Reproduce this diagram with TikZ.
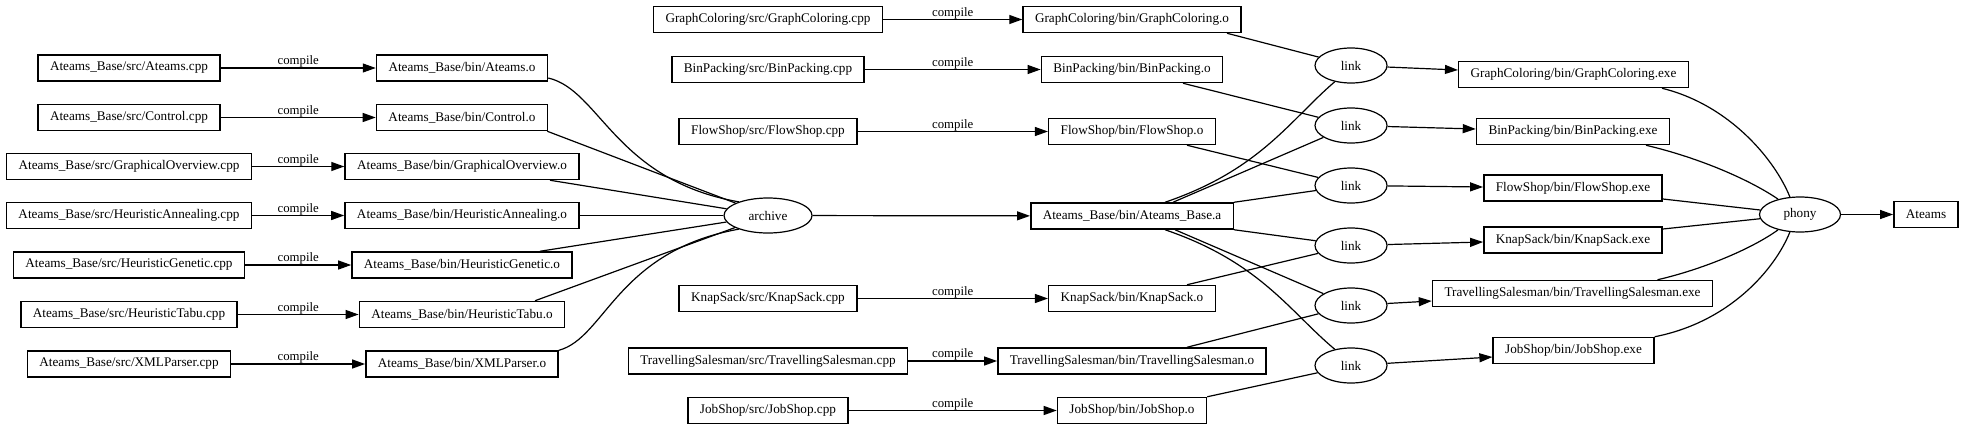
\documentclass[tikz,border=0pt]{standalone}
\usepackage{fontspec}
\setmainfont{Liberation Serif}
\usetikzlibrary{arrows.meta,calc,shapes.geometric}
\begin{document}
\begin{tikzpicture}[x=0.5pt,y=-0.5pt,
  box/.style={draw, line width=0.75pt, rectangle, minimum height=13pt, inner xsep=6pt, inner ysep=1pt, font=\fontsize{6.6}{7.5}\selectfont},
  ell/.style={draw, line width=0.6pt, ellipse, inner sep=0pt, minimum height=17.5pt, font=\fontsize{6.6}{7.5}\selectfont},
  edge/.style={line width=0.6pt},
  arr/.style={edge, -{Triangle[length=6.5pt,width=4.5pt]}},
  lbl/.style={font=\fontsize{6.4}{7}\selectfont, anchor=base, inner sep=0pt, yshift=1.6pt}]
\useasboundingbox (0,0) rectangle (1968,429);
% left column
\node[box] (c1) at (129,68) {Ateams\_Base/src/Ateams.cpp};
\node[box] (o1) at (462,68) {Ateams\_Base/bin/Ateams.o};
\node[box] (c2) at (129,117.5) {Ateams\_Base/src/Control.cpp};
\node[box] (o2) at (462,117.5) {Ateams\_Base/bin/Control.o};
\node[box] (c3) at (129,166.5) {Ateams\_Base/src/GraphicalOverview.cpp};
\node[box] (o3) at (462,166.5) {Ateams\_Base/bin/GraphicalOverview.o};
\node[box] (c4) at (129,215.5) {Ateams\_Base/src/HeuristicAnnealing.cpp};
\node[box] (o4) at (462,215.5) {Ateams\_Base/bin/HeuristicAnnealing.o};
\node[box] (c5) at (129,265) {Ateams\_Base/src/HeuristicGenetic.cpp};
\node[box] (o5) at (462,265) {Ateams\_Base/bin/HeuristicGenetic.o};
\node[box] (c6) at (129,314.5) {Ateams\_Base/src/HeuristicTabu.cpp};
\node[box] (o6) at (462,314.5) {Ateams\_Base/bin/HeuristicTabu.o};
\node[box] (c7) at (129,364) {Ateams\_Base/src/XMLParser.cpp};
\node[box] (o7) at (462,364) {Ateams\_Base/bin/XMLParser.o};
\node[ell, minimum width=44pt] (archive) at (768,215.5) {archive};
% middle
\node[box] (gcc) at (768,19.5) {GraphColoring/src/GraphColoring.cpp};
\node[box] (gco) at (1132,19.5) {GraphColoring/bin/GraphColoring.o};
\node[box] (bpc) at (768,69.5) {BinPacking/src/BinPacking.cpp};
\node[box] (bpo) at (1132,69.5) {BinPacking/bin/BinPacking.o};
\node[box] (fsc) at (768,131.5) {FlowShop/src/FlowShop.cpp};
\node[box] (fso) at (1132,131.5) {FlowShop/bin/FlowShop.o};
\node[box] (abase) at (1132,216) {Ateams\_Base/bin/Ateams\_Base.a};
\node[box] (ksc) at (768,298.5) {KnapSack/src/KnapSack.cpp};
\node[box] (kso) at (1132,298.5) {KnapSack/bin/KnapSack.o};
\node[box] (tsc) at (768,361) {TravellingSalesman/src/TravellingSalesman.cpp};
\node[box] (tso) at (1132,361) {TravellingSalesman/bin/TravellingSalesman.o};
\node[box] (jsc) at (768,410.5) {JobShop/src/JobShop.cpp};
\node[box] (jso) at (1132,410.5) {JobShop/bin/JobShop.o};
% links
\node[ell, minimum width=36pt] (l1) at (1351,65.5) {link};
\node[ell, minimum width=36pt] (l2) at (1351,125.5) {link};
\node[ell, minimum width=36pt] (l3) at (1351,185.5) {link};
\node[ell, minimum width=36pt] (l4) at (1351,245.5) {link};
\node[ell, minimum width=36pt] (l5) at (1351,305.5) {link};
\node[ell, minimum width=36pt] (l6) at (1351,365.5) {link};
% exes
\node[box] (gce) at (1573.5,74.5) {GraphColoring/bin/GraphColoring.exe};
\node[box] (bpe) at (1573,131.5) {BinPacking/bin/BinPacking.exe};
\node[box] (fse) at (1573,188) {FlowShop/bin/FlowShop.exe};
\node[box] (kse) at (1573,240) {KnapSack/bin/KnapSack.exe};
\node[box] (tse) at (1572.5,293.5) {TravellingSalesman/bin/TravellingSalesman.exe};
\node[box] (jse) at (1573.5,350.5) {JobShop/bin/JobShop.exe};
\node[ell, minimum width=40.5pt] (phony) at (1800,214.5) {phony};
\node[box] (ateams) at (1926,214.5) {Ateams};
% compile edges
\foreach \a/\b in {c1/o1,c2/o2,c3/o3,c4/o4,c5/o5,c6/o6,c7/o7,gcc/gco,bpc/bpo,fsc/fso,ksc/kso,tsc/tso,jsc/jso}
  \draw[arr] (\a) -- node[lbl]{compile} (\b);
% objects to archive
\draw[edge] ($(o1.east)+(0,10)$) .. controls (600,90) and (615,180) .. (archive.155);
\draw[edge] ($(o2.south east)+(-1,0)$) -- (archive);
\draw[edge] ($(o3.south)+(88,0)$) -- (archive);
\draw[edge] (o4) -- (archive);
\draw[edge] ($(o5.north)+(78,0)$) -- (archive);
\draw[edge] ($(o6.north)+(73,0)$) -- (archive);
\draw[edge] (o7.north east) .. controls (605,338) and (617,251) .. (archive.205);
\draw[arr] (archive) -- (abase);
% library to links
\draw[edge] ($(abase.north)+(33,0)$) .. controls (1260,170) and (1290,120) .. (l1.225);
\draw[edge] ($(abase.north)+(41,0)$) -- (l2);
\draw[edge] (abase.north east) -- (l3);
\draw[edge] (abase.south east) -- (l4);
\draw[edge] ($(abase.south)+(43,0)$) -- (l5);
\draw[edge] ($(abase.south)+(33,0)$) .. controls (1260,262) and (1290,312) .. (l6.135);
% objects to links
\draw[edge] ($(gco.south)+(95,0)$) -- (l1);
\draw[edge] ($(bpo.south)+(51,0)$) -- (l2);
\draw[edge] ($(fso.south)+(55,0)$) -- (l3);
\draw[edge] ($(kso.north)+(55,0)$) -- (l4);
\draw[edge] ($(tso.north)+(55,0)$) -- (l5);
\draw[edge] (jso.north east) -- (l6);
% links to exes
\draw[arr] (l1) -- ($(gce.west)+(0,-4.5)$);
\draw[arr] (l2) -- ($(bpe.west)+(0,-2.5)$);
\draw[arr] (l3) -- ($(fse.west)+(0,-1)$);
\draw[arr] (l4) -- ($(kse.west)+(0,2)$);
\draw[arr] (l5) -- ($(tse.west)+(0,7.5)$);
\draw[arr] (l6) -- ($(jse.west)+(0,6.5)$);
% exes to phony
\draw[edge] ($(gce.south)+(88.5,0)$) .. controls (1730,105) and (1775,160) .. (phony.120);
\draw[edge] ($(bpe.south)+(73,0)$) .. controls (1700,158) and (1750,180) .. (phony.145);
\draw[edge] ($(fse.east)+(0,11)$) -- (phony);
\draw[edge] ($(kse.east)+(0,-11)$) -- (phony);
\draw[edge] ($(tse.north)+(85,0)$) .. controls (1700,270) and (1750,250) .. (phony.215);
\draw[edge] (jse.north east) .. controls (1730,322) and (1775,269) .. (phony.240);
\draw[arr] (phony) -- (ateams);
\end{tikzpicture}
\end{document}
